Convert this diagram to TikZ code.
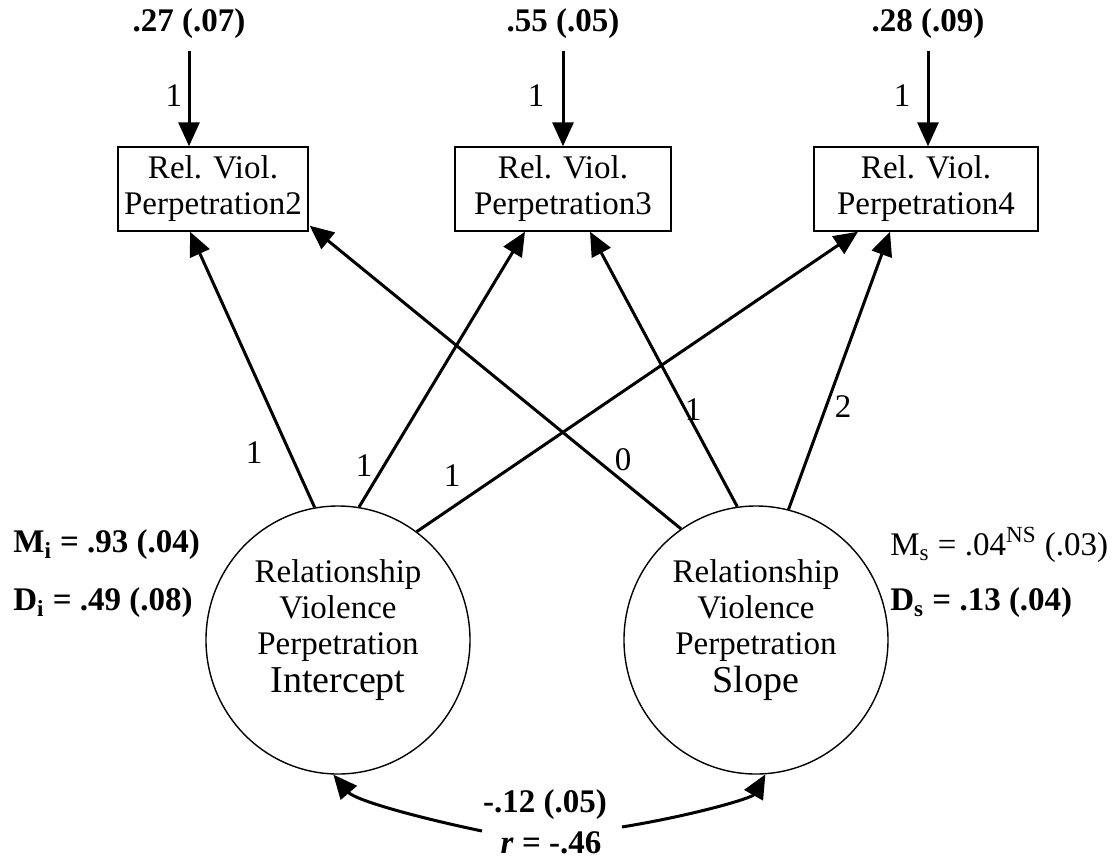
\documentclass[tikz,border=0pt]{standalone}
\usepackage{fontspec}
\setmainfont{Liberation Serif}
\usetikzlibrary{arrows.meta,shapes.geometric,calc}
\begin{document}
\begin{tikzpicture}[x=0.5pt,y=-0.5pt,
  every node/.style={font=\fontsize{16.5}{18}\selectfont, inner sep=0pt},
  boxnode/.style={draw, line width=0.7pt, minimum height=42pt, align=center},
  latent/.style={draw, ellipse, line width=0.7pt, minimum width=132pt, minimum height=134pt},
  latenttext/.style={align=center, font=\fontsize{16.5}{18}\selectfont},
  boldlbl/.style={font=\fontsize{16.5}{18}\selectfont\bfseries},
  arr/.style={line width=1.5pt, -{Triangle[length=12pt,width=10.5pt]}}
]
\useasboundingbox (0,0) rectangle (1116,859);

% observed indicators
\node[boxnode, minimum width=95pt]  (B1) at (213,189) {Rel. Viol.\\Perpetration2};
\node[boxnode, minimum width=108pt] (B2) at (563,189) {Rel. Viol.\\Perpetration3};
\node[boxnode, minimum width=112pt] (B3) at (926,189) {Rel. Viol.\\Perpetration4};

% residual variances
\node[boldlbl] (E1) at (189,24) {.27 (.07)};
\node[boldlbl] (E2) at (563,24) {.55 (.05)};
\node[boldlbl] (E3) at (928,24) {.28 (.09)};
\draw[arr] ([yshift=-6pt]E1.south) -- (E1 |- B1.north);
\draw[arr] ([yshift=-6pt]E2.south) -- (E2 |- B2.north);
\draw[arr] ([yshift=-6pt]E3.south) -- (E3 |- B3.north);
\node (e1) at (174,96) {1};
\node (e2) at (536,96) {1};
\node (e3) at (902,96) {1};

% growth factors
\node[latent] (I) at (338,640) {};
\node[latent] (S) at (756,640) {};
\node[latenttext] (It) at (338,630) {Relationship\\Violence\\Perpetration\\[1pt]{\fontsize{19}{21}\selectfont Intercept}};
\node[latenttext] (St) at (756,630) {Relationship\\Violence\\Perpetration\\[1pt]{\fontsize{19}{21}\selectfont Slope}};

% factor loadings
\draw[arr] (I.100) -- ($(B1.south)+(-23,0)$);
\draw[arr] (I.81)  -- ($(B2.south)+(-38,0)$);
\draw[arr] (I.54)  -- ($(B3.south)+(-68,0)$);
\draw[arr] (S.124) -- ($(B1.south east)+(1,-6)$);
\draw[arr] (S.98)  -- ($(B2.south)+(27,0)$);
\draw[arr] (S.76)  -- ($(B3.south)+(-36,0)$);
\node (l1) at (254,453) {1};
\node (l2) at (364,466) {1};
\node (l3) at (452,476) {1};
\node (l4) at (623,460) {0};
\node (l5) at (693,410) {1};
\node (l6) at (843,407) {2};

% means and variances of the factors
\node[anchor=west, boldlbl] (Mi) at (13,545) {M\textsubscript{i} = .93 (.04)};
\node[anchor=west, boldlbl] (Di) at (13,603) {D\textsubscript{i} = .49 (.08)};
\node[anchor=west] (Ms) at (890,545) {M\textsubscript{s} = .04\textsuperscript{NS} (.03)};
\node[anchor=west, boldlbl] (Ds) at (890,603) {D\textsubscript{s} = .13 (.04)};

% factor covariance
\node[boldlbl] (C1) at (545,805) {-.12 (.05)};
\node[boldlbl] (C2) at (551,843) {\textit{r} = -.46};
\coordinate (cl) at (482,831);
\coordinate (cr) at (622,827);
\draw[arr] (cl) .. controls (415,817) and (355,800) .. (I.268);
\draw[arr] (cr) .. controls (695,815) and (752,798) .. (S.274);
\end{tikzpicture}
\end{document}
